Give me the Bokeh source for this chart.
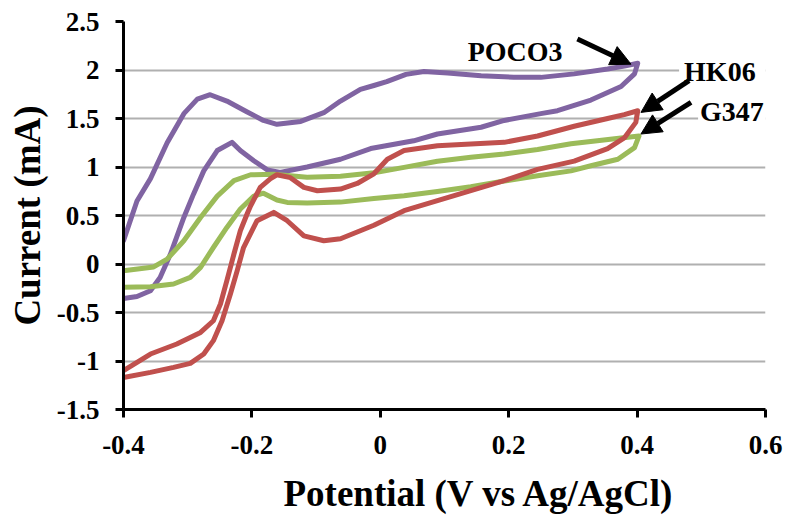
from bokeh.plotting import figure
from bokeh.models import Range1d, FixedTicker, Label, Arrow, NormalHead, Title
from bokeh.embed import file_html
from bokeh.resources import INLINE

# ---- data ----
x_ticks = [-0.4, -0.2, 0.0, 0.2, 0.4, 0.6]
x_tick_labels = ["-0.4", "-0.2", "0", "0.2", "0.4", "0.6"]
y_ticks = [-1.5, -1.0, -0.5, 0.0, 0.5, 1.0, 1.5, 2.0, 2.5]
y_tick_labels = ["-1.5", "-1", "-0.5", "0", "0.5", "1", "1.5", "2", "2.5"]
x_title = "Potential (V vs Ag/AgCl)"
y_title = "Current (mA)"

series_names = ["POCO3", "G347", "HK06"]

poco3_x = [-0.400, -0.379, -0.358, -0.332, -0.306, -0.285, -0.265, -0.239, -0.208, -0.182,
           -0.161, -0.124, -0.088, -0.062, -0.031, -0.010, 0.010, 0.040, 0.068, 0.105,
           0.157, 0.208, 0.250, 0.302, 0.354, 0.380, 0.401,
           0.396, 0.375, 0.328, 0.276, 0.250, 0.193, 0.157, 0.089, 0.052, -0.015,
           -0.062, -0.114, -0.156, -0.176, -0.197, -0.218, -0.231, -0.254, -0.275,
           -0.291, -0.306, -0.327, -0.343, -0.358, -0.379, -0.400]
poco3_y = [0.24, 0.65, 0.88, 1.25, 1.55, 1.70, 1.745, 1.68, 1.57, 1.48,
           1.44, 1.47, 1.56, 1.68, 1.80, 1.84, 1.88, 1.955, 1.985, 1.97,
           1.94, 1.925, 1.924, 1.96, 2.01, 2.04, 2.07,
           1.96, 1.83, 1.69, 1.58, 1.55, 1.48, 1.41, 1.34, 1.27, 1.19,
           1.08, 1.00, 0.945, 0.97, 1.065, 1.17, 1.254, 1.17, 0.96,
           0.72, 0.48, 0.10, -0.14, -0.275, -0.335, -0.355]

g347_x = [-0.400, -0.353, -0.332, -0.306, -0.280, -0.254, -0.228, -0.202, -0.166, -0.114,
          -0.062, -0.010, 0.037, 0.089, 0.141, 0.193, 0.245, 0.297, 0.338, 0.375, 0.403,
          0.396, 0.370, 0.328, 0.297, 0.245, 0.193, 0.141, 0.089, 0.037, -0.010,
          -0.062, -0.114, -0.145, -0.161, -0.182, -0.197, -0.218, -0.239, -0.260,
          -0.280, -0.296, -0.322, -0.358, -0.400]
g347_y = [-0.07, -0.03, 0.05, 0.24, 0.48, 0.70, 0.86, 0.92, 0.925, 0.895,
          0.905, 0.94, 0.996, 1.06, 1.10, 1.134, 1.18, 1.24, 1.27, 1.30, 1.32,
          1.20, 1.08, 1.013, 0.96, 0.91, 0.855, 0.797, 0.748, 0.704, 0.675,
          0.638, 0.628, 0.635, 0.66, 0.73, 0.70, 0.567, 0.377, 0.17,
          -0.035, -0.138, -0.206, -0.234, -0.24]

hk06_x = [-0.400, -0.358, -0.317, -0.280, -0.260, -0.249, -0.239, -0.228, -0.218, -0.2075,
          -0.202, -0.187, -0.171, -0.161, -0.140, -0.119, -0.098, -0.062, -0.036, -0.010,
          0.011, 0.037, 0.089, 0.141, 0.193, 0.245, 0.302, 0.354, 0.380, 0.401,
          0.398, 0.380, 0.354, 0.302, 0.245, 0.193, 0.141, 0.089, 0.037, -0.010,
          -0.062, -0.088, -0.119, -0.145, -0.166, -0.192, -0.213, -0.223, -0.2335,
          -0.2465, -0.260, -0.275, -0.296, -0.322, -0.358, -0.400]
hk06_y = [-1.10, -0.928, -0.825, -0.705, -0.585, -0.412, -0.172, 0.103, 0.343, 0.515,
          0.60, 0.79, 0.88, 0.92, 0.89, 0.79, 0.755, 0.773, 0.83, 0.93,
          1.08, 1.17, 1.22, 1.237, 1.254, 1.32, 1.42, 1.50, 1.54, 1.58,
          1.46, 1.30, 1.19, 1.06, 0.975, 0.859, 0.756, 0.653, 0.55, 0.40,
          0.26, 0.24, 0.29, 0.446, 0.532, 0.446, 0.17, -0.07, -0.31,
          -0.585, -0.79, -0.928, -1.025, -1.066, -1.117, -1.17]

colors = {"POCO3": "#8064A2", "G347": "#9BBB59", "HK06": "#C0504D"}

FONT = "Liberation Serif"

p = figure(width=786, height=529, output_backend="svg", toolbar_location=None,
           x_range=Range1d(-0.4, 0.6), y_range=Range1d(-1.5, 2.5),
           min_border_left=123, min_border_right=21, min_border_top=21,
           min_border_bottom=120)
p.outline_line_color = None
p.background_fill_color = "white"
p.border_fill_color = "white"

# grid
p.xgrid.grid_line_color = None
p.ygrid.grid_line_color = "#b0b0b0"
p.ygrid.grid_line_width = 2

# axes
for ax in (p.xaxis[0], p.yaxis[0]):
    ax.axis_line_color = "black"
    ax.axis_line_width = 3
    ax.major_tick_line_color = "black"
    ax.major_tick_line_width = 3
    ax.major_tick_in = 0
    ax.major_tick_out = 8
    ax.minor_tick_line_color = None
    ax.major_label_text_font = FONT
    ax.major_label_text_font_style = "bold"
    ax.major_label_text_font_size = "27px"
    ax.major_label_text_color = "black"
    ax.axis_label_text_font = FONT
    ax.axis_label_text_font_style = "bold"
    ax.axis_label_text_font_size = "37px"
    ax.axis_label_text_color = "black"

p.xaxis.ticker = FixedTicker(ticks=x_ticks)
p.xaxis.major_label_overrides = dict(zip(x_ticks, x_tick_labels))
p.yaxis.ticker = FixedTicker(ticks=y_ticks)
p.yaxis.major_label_overrides = dict(zip(y_ticks, y_tick_labels))
p.yaxis.axis_label = y_title
p.xaxis.major_label_standoff = 18
p.yaxis.major_label_standoff = 16
p.yaxis.axis_label_standoff = 6

# x-axis title, placed below the axis and a little right of centre as in the reference
p.add_layout(Title(text=x_title, align="left", offset=160, standoff=28,
                   text_font=FONT, text_font_style="bold", text_font_size="37px",
                   text_color="black"), "below")

# curves
curves = {"POCO3": (poco3_x, poco3_y), "G347": (g347_x, g347_y), "HK06": (hk06_x, hk06_y)}
for name in series_names:
    xs, ys = curves[name]
    p.line(xs, ys, line_color=colors[name], line_width=5, line_join="round", line_cap="round")

# labels with arrows
label_specs = [("POCO3", 0.133, 2.233, dict(left=2, right=15, top=10, bottom=2)),
               ("HK06", 0.4654, 1.985, dict(left=5, right=10, top=4, bottom=4)),
               ("G347", 0.495, 1.563, dict(left=2, right=6, top=4, bottom=6))]
for txt, lx, ly, pad in label_specs:
    p.add_layout(Label(x=lx, y=ly, text=txt, text_font=FONT, text_font_style="bold",
                       text_font_size="28px", text_color="black", text_baseline="alphabetic",
                       text_align="left", background_fill_color="white", padding=pad))

arrow_specs = [(0.307, 2.32, 0.3905, 2.06), (0.481, 1.89, 0.406, 1.563), (0.484, 1.666, 0.406, 1.34)]
for x0, y0, x1, y1 in arrow_specs:
    p.add_layout(Arrow(x_start=x0, y_start=y0, x_end=x1, y_end=y1, line_color="black",
                       line_width=5,
                       end=NormalHead(size=20, fill_color="black", line_color="black", line_width=1)))

open("out.html", "w").write(file_html(p, INLINE))
